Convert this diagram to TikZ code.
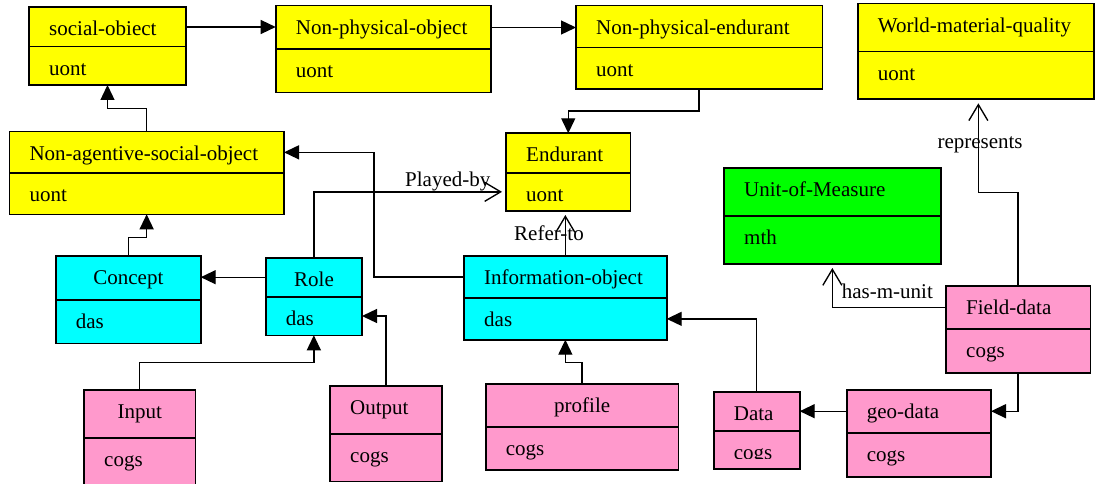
\documentclass[tikz,border=0pt]{standalone}
\usepackage{fontspec}
\setmainfont{Liberation Serif}
\usetikzlibrary{arrows.meta,calc}

\definecolor{classyellow}{HTML}{FFFF00}
\definecolor{classcyan}{HTML}{00FFFF}
\definecolor{classgreen}{HTML}{00FF00}
\definecolor{classpink}{HTML}{FF99CC}

\tikzset{
  compartment/.style={draw=black, line width=1.6pt, inner sep=0pt, outer sep=0pt, anchor=north west},
  titletext/.style={inner sep=0pt, anchor=base west, align=left},
  centred/.style={titletext/.append style={align=center}},
  attrtext/.style={inner sep=0pt, anchor=base west},
  labeltext/.style={inner sep=0pt, anchor=base west},
  connector/.style={line width=1.35pt, line join=miter},
  gen/.style={connector, -{Triangle[length=15pt,width=14pt]}},
  assoc/.style={connector, -{Straight Barb[length=16pt,width=19pt]}, shorten >=4pt},
}

% UML class: name, x1, y1, y of divider, x2, y2, fill, class name, attribute
\newcommand\umlclass[9]{%
  \node[compartment, fill=#7, minimum width={(#5-#2)*1pt}, minimum height={(#4-#3)*1pt}] (#1-t) at (#2,#3) {};
  \node[compartment, fill=#7, minimum width={(#5-#2)*1pt}, minimum height={(#6-#4)*1pt}] (#1-a) at (#2,#4) {};
  \node[titletext, text width={(#5-#2-40)*1pt}] (#1-tn) at (#2+20,#3+28.5) {#8};
  \node[attrtext] (#1-an) at (#2+20,#4+28.5) {#9};
}

\begin{document}
\begin{tikzpicture}[x=1pt, y=-1pt, font=\fontsize{21}{25}\selectfont]
  \clip (0,0) rectangle (1095,484);
  \fill[white] (0,0) rectangle (1095,484);

  % upper ontology (yellow)
  \umlclass{so}{29}{7.3}{46.7}{186}{85}{classyellow}{social-obiect}{uont}
  \umlclass{npo}{275.7}{5.7}{49.3}{490.7}{92.7}{classyellow}{Non-physical-object}{uont}
  \umlclass{npe}{576}{5.7}{47.7}{822.3}{89.3}{classyellow}{Non-physical-endurant}{uont}
  \umlclass{wmq}{857.7}{3.7}{51.7}{1094}{99.3}{classyellow}{World-material-quality}{uont}
  \umlclass{nas}{9.3}{131.7}{173}{284}{214.3}{classyellow}{Non-agentive-social-object}{uont}
  \umlclass{end}{506}{133.3}{172.7}{630.5}{211}{classyellow}{Endurant}{uont}

  % measurement (green)
  \umlclass{uom}{724}{167.7}{215.7}{940.7}{264}{classgreen}{Unit-of-Measure}{mth}

  % description and situation (cyan)
  \begin{scope}[centred]
    \umlclass{concept}{55.7}{255.7}{299.7}{200.7}{343.3}{classcyan}{Concept}{das}
    \umlclass{role}{265.7}{257.7}{296.7}{362}{335.3}{classcyan}{Role}{das}
  \end{scope}
  \umlclass{io}{464}{255.7}{298}{666.7}{339.7}{classcyan}{Information-object}{das}

  % domain classes (pink)
  \begin{scope}[centred]
    \umlclass{inp}{84}{389.7}{437.7}{195.3}{495}{classpink}{Input}{cogs}
    \umlclass{prof}{485.7}{383.7}{427}{678.3}{470}{classpink}{profile}{cogs}
  \end{scope}
  \umlclass{out}{330}{385.7}{433.7}{441.7}{481.3}{classpink}{Output}{cogs}
  \umlclass{data}{713.7}{391.7}{430.7}{799.7}{468.7}{classpink}{Data}{}
  \begin{scope}
    \clip (data-a.north west) rectangle ([yshift=-27.8pt]data-a.north east);
    \node[attrtext] (data-cogs) at ([xshift=20pt,yshift=-28.5pt]data-a.north west) {cogs};
  \end{scope}
  \umlclass{geo}{846.7}{389.7}{432.7}{991}{477}{classpink}{geo-data}{cogs}
  \umlclass{field}{946}{285.7}{329}{1090.3}{372.7}{classpink}{Field-data}{cogs}

  % generalisations
  \draw[gen] (so-t.east) -- (so-t.east -| npo-t.west);
  \draw[gen] (npo-t.east) -- (npo-t.east -| npe-t.west);
  \draw[gen] (npe-a.south) -- ++(0,21.7) -| (end-t.north);
  \draw[gen] (nas-t.north) -- ++(0,-23.4) -| (so-a.south);
  \draw[gen] (concept-t.north) -- ++(0,-18) -| (nas-a.south);
  \draw[gen] (role-t.west) -- (role-t.west -| concept-t.east);
  \draw[gen] (io-t.west) -- ++(-90,0) |- (nas-t.east);
  \draw[gen] (out-t.north) |- (role-a.east);
  \draw[gen] (inp-t.north) -- ++(0,-27.4) -| (role-a.south);
  \draw[gen] (prof-t.north) -- ++(0,-21.4) -| (io-a.south);
  \draw[gen] (data-t.north) |- (io-a.east);
  \draw[gen] (geo-t.west) -- (geo-t.west -| data-t.east);
  \draw[gen] (field-a.south) |- (geo-t.east);

  % associations
  \coordinate (wmq-in) at ([xshift=2.5pt]wmq-a.south);
  \draw[assoc] (role-t.north) |- (end-a.west);
  \draw[assoc] (io-t.north) -- (io-t.north |- end-a.south);
  \draw[assoc] (field-t.north) -- ++(0,-93) -| (wmq-in);
  \draw[assoc] (field-t.west) -| (uom-a.south);

  \node[labeltext] (lbl-played) at (405,186.3) {Played-by};
  \node[labeltext] (lbl-refer) at (514,240.7) {Refer-to};
  \node[labeltext] (lbl-repr) at (937.3,149) {represents};
  \node[labeltext] (lbl-unit) at (841.7,298.3) {has-m-unit};
\end{tikzpicture}
\end{document}
